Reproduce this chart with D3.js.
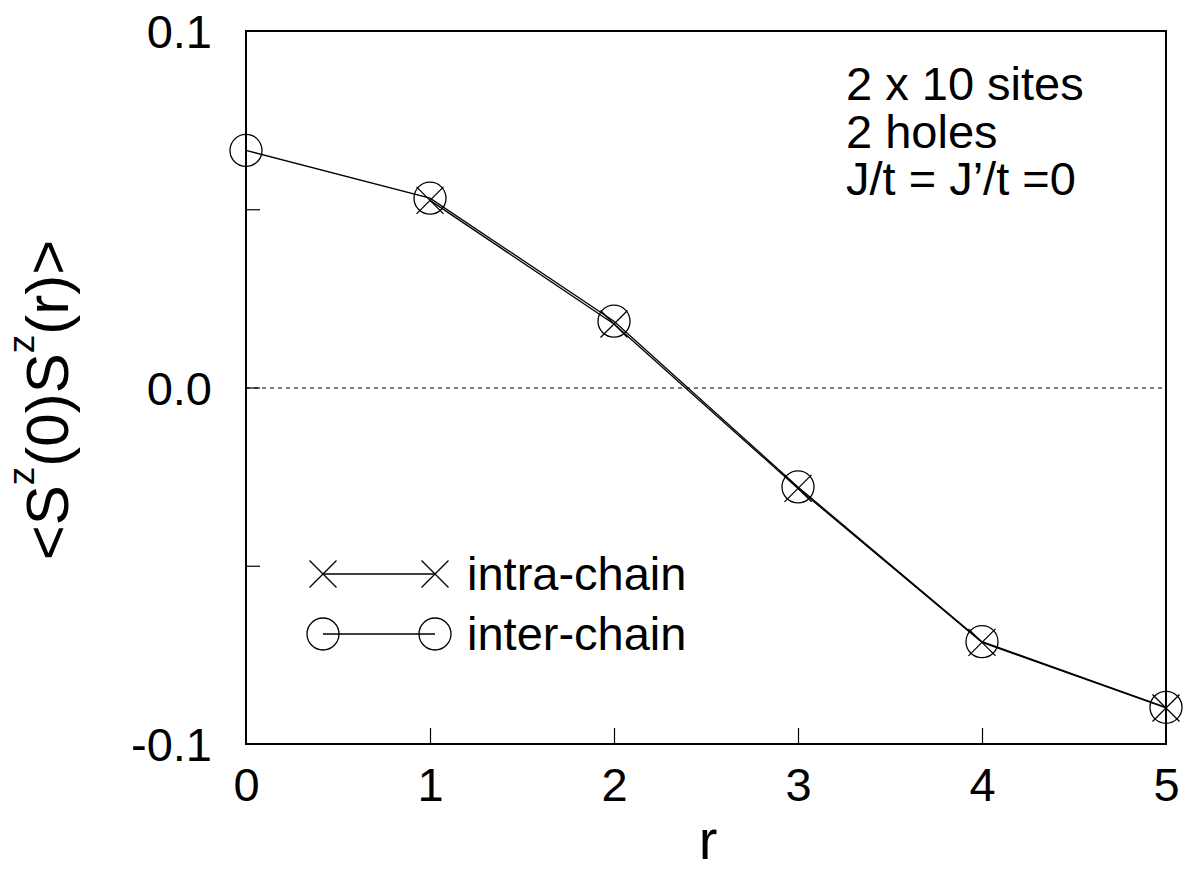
<!DOCTYPE html>
<html>
<head>
<meta charset="utf-8">
<script src="https://cdn.jsdelivr.net/npm/d3@7"></script>
<style>
  html, body { margin: 0; padding: 0; background: #fff; }
  svg { display: block; font-family: "Liberation Sans", Arial, sans-serif; }
</style>
</head>
<body>
<svg id="chart" width="1188" height="871"></svg>
<script>
// ---- data ----
const interR = [0, 1, 2, 3, 4, 5];
const interValues = [0.0665, 0.0531, 0.0186, -0.0279, -0.0713, -0.0897];
const intraR = [1, 2, 3, 4, 5];
const intraValues = [0.0525, 0.0178, -0.0283, -0.0715, -0.0899];
const xTicks = [0, 1, 2, 3, 4, 5];
const yTicks = [-0.1, -0.05, 0.0, 0.05, 0.1];
const yTickLabels = ["-0.1", "", "0.0", "", "0.1"];
const seriesNames = ["intra-chain", "inter-chain"];
const annotation = ["2 x 10 sites", "2 holes", "J/t = J\u2019/t =0"];

// ---- layout ----
const svg = d3.select("#chart");
const L = 246, R = 1166, T = 31, B = 744;
const x = d3.scaleLinear().domain([0, 5]).range([L, R]);
const y = d3.scaleLinear().domain([-0.1, 0.1]).range([B, T]);
const FS = 47;

// zero dashed line
svg.append("line")
  .attr("x1", L).attr("x2", R).attr("y1", y(0) + 0.5).attr("y2", y(0) + 0.5)
  .attr("stroke", "#000").attr("stroke-width", 1).attr("stroke-dasharray", "4,4");

// axes (ticks inward)
const xAxis = d3.axisBottom(x).tickValues(xTicks).tickSizeInner(-16).tickSizeOuter(0).tickPadding(24)
  .tickFormat(d3.format("d"));
const gx = svg.append("g").attr("transform", `translate(0,${B})`).call(xAxis);
const yAxis = d3.axisLeft(y).tickValues(yTicks).tickSizeInner(-14).tickSizeOuter(0).tickPadding(34)
  .tickFormat((d, i) => yTickLabels[i]);
const gy = svg.append("g").attr("transform", `translate(${L},0)`).call(yAxis);
[gx, gy].forEach(g => {
  g.select(".domain").remove();
  g.selectAll(".tick line").attr("stroke", "#000").attr("stroke-width", 1.2);
  g.selectAll(".tick text").attr("fill", "#000").style("font-size", FS + "px")
    .style("font-family", "'Liberation Sans', Arial, sans-serif");
});
gx.selectAll(".tick line").filter(d => d === 0 || d === 5).remove();
gy.selectAll(".tick line").filter(d => d === 0.1 || d === -0.1).remove();
gy.selectAll(".tick text").attr("dy", "0.36em");
gx.selectAll(".tick text").attr("dy", "0.71em");

// frame
svg.append("rect").attr("x", L).attr("y", T).attr("width", R - L).attr("height", B - T)
  .attr("fill", "none").attr("stroke", "#000").attr("stroke-width", 2);

// series
const line = d3.line().x(d => x(d[0])).y(d => y(d[1]));
const interData = interR.map((r, i) => [r, interValues[i]]);
const intraData = intraR.map((r, i) => [r, intraValues[i]]);

svg.append("path").datum(intraData).attr("d", line)
  .attr("fill", "none").attr("stroke", "#000").attr("stroke-width", 1.3);
svg.append("path").datum(interData).attr("d", line)
  .attr("fill", "none").attr("stroke", "#000").attr("stroke-width", 1.3);

const CR = 16, XH = 13.5;
function drawCross(g, cx, cy) {
  g.append("path")
    .attr("d", `M${cx - XH},${cy - XH}L${cx + XH},${cy + XH}M${cx - XH},${cy + XH}L${cx + XH},${cy - XH}`)
    .attr("stroke", "#000").attr("stroke-width", 1.3).attr("fill", "none");
}
function drawCircle(g, cx, cy) {
  g.append("circle").attr("cx", cx).attr("cy", cy).attr("r", CR)
    .attr("fill", "none").attr("stroke", "#000").attr("stroke-width", 1.3);
}
const marks = svg.append("g");
intraData.forEach(d => drawCross(marks, x(d[0]), y(d[1])));
interData.forEach(d => drawCircle(marks, x(d[0]), y(d[1])));

// legend
const lg = svg.append("g");
const lx1 = 323, lx2 = 435, ly1 = 574, ly2 = 634;
lg.append("line").attr("x1", lx1).attr("x2", lx2).attr("y1", ly1).attr("y2", ly1)
  .attr("stroke", "#000").attr("stroke-width", 1.3);
drawCross(lg, lx1, ly1); drawCross(lg, lx2, ly1);
lg.append("line").attr("x1", lx1).attr("x2", lx2).attr("y1", ly2).attr("y2", ly2)
  .attr("stroke", "#000").attr("stroke-width", 1.3);
drawCircle(lg, lx1, ly2); drawCircle(lg, lx2, ly2);
lg.append("text").attr("x", 467).attr("y", 590).style("font-size", FS + "px").text(seriesNames[0]);
lg.append("text").attr("x", 467).attr("y", 650).style("font-size", FS + "px").text(seriesNames[1]);

// annotation
const ann = svg.append("g");
annotation.forEach((t, i) => {
  ann.append("text").attr("x", 846).attr("y", 100 + i * 47.5).style("font-size", FS + "px").text(t);
});

// axis labels
svg.append("text").attr("x", 708).attr("y", 859).attr("text-anchor", "middle")
  .style("font-size", "56px").text("r");

const yl = svg.append("text")
  .attr("transform", "translate(68,400) rotate(-90)")
  .attr("text-anchor", "middle")
  .style("font-size", "60px");
yl.append("tspan").text("<S");
yl.append("tspan").attr("dy", -34).style("font-size", "37px").text("z");
yl.append("tspan").attr("dy", 34).text("(0)S");
yl.append("tspan").attr("dy", -34).style("font-size", "37px").text("z");
yl.append("tspan").attr("dy", 34).text("(r)>");
</script>
</body>
</html>
